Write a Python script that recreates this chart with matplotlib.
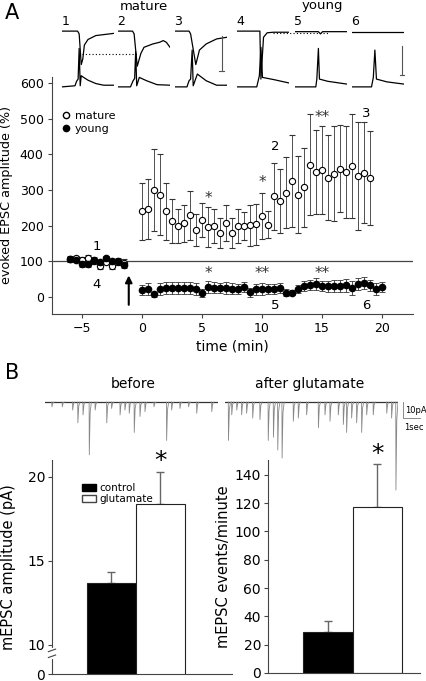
import matplotlib
matplotlib.use("Agg")
import matplotlib.pyplot as plt
from matplotlib.lines import Line2D
from matplotlib.patches import Patch

# ---------------- data ----------------
# panel A, evoked EPSC amplitude (%) vs time (min)
base_t = [-6.0, -5.5, -5.0, -4.5, -4.0, -3.5, -3.0, -2.5, -2.0, -1.5]
base_mature = [107, 108, 103, 110, 100, 88, 98, 87, 97, 96]
base_mature_err = [8, 6, 10, 8, 7, 9, 6, 8, 7, 9]
base_young = [105, 103, 93, 91, 104, 97, 108, 100, 102, 90]
base_young_err = [7, 6, 8, 6, 8, 7, 8, 7, 6, 8]

mature_t = [i * 0.5 for i in range(39)]
mature = [240, 247, 299, 287, 240, 213, 199, 206, 229, 187, 215, 196, 199,
          180, 208, 180, 199, 199, 201, 204, 227, 203, 282, 268, 292, 325,
          287, 307, 371, 350, 356, 335, 346, 360, 351, 367, 339, 349, 334]
mature_err = [80, 85, 115, 113, 80, 62, 47, 53, 68, 45, 48, 55, 48, 42, 50,
              42, 48, 38, 58, 58, 65, 38, 93, 90, 100, 130, 108, 112, 142,
              118, 124, 120, 134, 121, 129, 146, 151, 141, 132]

young_t = [i * 0.5 for i in range(41)]
young = [20, 22, 7, 22, 24, 24, 25, 24, 24, 22, 11, 28, 26, 25, 26, 23, 21,
         27, 13, 21, 22, 23, 21, 26, 12, 12, 22, 31, 33, 36, 31, 30, 31, 31,
         32, 25, 37, 39, 32, 21, 28]
young_err = [14, 16, 8, 17, 17, 17, 17, 17, 17, 16, 10, 16, 15, 15, 17, 15,
             14, 14, 12, 15, 16, 14, 14, 14, 10, 8, 12, 14, 15, 17, 14, 15,
             16, 17, 18, 20, 17, 18, 16, 17, 13]

# example traces above panel A (normalised time 0-1, normalised amplitude 0-1)
trace_labels = ["1", "2", "3", "4", "5", "6"]
trace_top_x = [
    [0, .30, .33, .37, .40, .43, .50, .65, 1.0],
    [0, .28, .31, .37, .44, .50, .67, .80, .87, .93, 1.0],
    [0, .27, .30, .40, .47, .60, .80, 1.0],
    [0, .44, .46, .51, .58, .70, 1.0],
    [0, .45, .49, .53, 1.0],
    [0, 1.0],
]
trace_top_y = [
    [1, 1, .95, .40, .50, .75, .85, .92, .96],
    [1, 1, .95, .37, .60, .71, .77, .80, .83, .80, .71],
    [1, 1, .95, .40, .66, .77, .86, .89],
    [1, 1, .14, .89, .97, .98, .98],
    [.99, .99, .95, .99, .99],
    [.99, .99],
]
trace_bot_x = [
    [0, .25, .28, .31, .33, .35, .37, .40, .50, .65, .80, 1.0],
    [0, .24, .29, .32, .34, .36, .41, .55, .75, 1.0],
    [0, .23, .27, .30, .33, .35, .43, .60, .80, 1.0],
    [0, .38, .43, .46, .49, .71, 1.0],
    [0, .40, .42, .45, .47, .63, 1.0],
    [0, .375, .41, .44, .47, .67, 1.0],
]
trace_bot_y = [
    [0, .02, .10, .14, .69, .02, .20, .18, .12, .06, .03, .03],
    [0, 0, .11, .15, .63, .02, .17, .11, .04, .03],
    [0, 0, .11, .14, .66, .02, .23, .11, .03, .03],
    [0, 0, .20, .71, .17, .13, .07],
    [0, 0, .14, .69, .14, .10, .05],
    [0, 0, .17, .66, .14, .09, .05],
]

# panel B, mEPSC events (time s, depth pA)
before_t = [0.4, 1.0, 1.6, 1.9, 2.2, 2.56, 2.9, 3.57, 3.85, 4.34, 4.62, 4.87,
            5.16, 5.49, 5.78, 6.3, 7.03, 7.32, 7.8, 8.3, 8.77, 9.64]
before_d = [3, 3, 5, 13, 8, 33, 5, 13, 4, 8, 5, 7, 19, 9, 6, 3, 24, 5, 4, 3,
            7, 6]
after_t = [0.2, 0.39, 0.68, 0.96, 1.25, 1.6, 2.02, 2.5, 2.8, 3.05, 3.3,
           3.95, 4.24, 4.72, 5.4, 5.78, 6.07, 6.55, 6.84, 7.03, 7.32, 7.61,
           7.9, 8.19, 8.57, 9.35, 9.63, 9.88]
after_d = [24, 8, 5, 8, 7, 10, 11, 24, 22, 30, 35, 12, 10, 8, 16, 8, 12, 8,
           14, 19, 10, 13, 19, 8, 8, 7, 10, 55]

groups = ["control", "glutamate"]
amp = [13.66, 18.36]
amp_err = [0.65, 1.95]
freq = [29, 117.6]
freq_err = [8, 30]

W, H = 426, 681


def box(l, t, r, b):
    return [l / W, 1 - b / H, (r - l) / W, (b - t) / H]


plt.rcParams['font.family'] = ['DejaVu Sans']
fig = plt.figure(figsize=(W / 100, H / 100), dpi=100)
axc = '#444444'

# ---------------- panel A ----------------
ax = fig.add_axes(box(52, 77, 413, 314))
ax.axhline(100, color=axc, lw=0.9, zorder=1)
ax.errorbar(mature_t, mature, yerr=mature_err, fmt='o', mfc='white', mec='black',
            ms=4.5, mew=0.8, ecolor='#333333', elinewidth=0.6, capsize=2.2,
            capthick=0.6, zorder=3)
ax.errorbar(young_t, young, yerr=young_err, fmt='o', mfc='black', mec='black',
            ms=4.5, ecolor='#333333', elinewidth=0.6, capsize=2.2,
            capthick=0.6, zorder=3)
ax.errorbar(base_t, base_mature, yerr=base_mature_err, fmt='o', mfc='white',
            mec='black', ms=4.5, mew=0.8, ecolor='#333333', elinewidth=0.6,
            capsize=2.2, capthick=0.6, zorder=3)
ax.errorbar(base_t, base_young, yerr=base_young_err, fmt='o', mfc='black',
            mec='black', ms=4.5, ecolor='#333333', elinewidth=0.6, capsize=2.2,
            capthick=0.6, zorder=4)
ax.set_xlim(-7.5, 22.6)
ax.set_ylim(-48, 617)
ax.set_xticks([-5, 0, 5, 10, 15, 20])
ax.set_yticks([0, 100, 200, 300, 400, 500, 600])
for s in ['top', 'right']:
    ax.spines[s].set_visible(False)
for s in ['left', 'bottom']:
    ax.spines[s].set_color(axc)
ax.tick_params(direction='out', length=3, width=0.8, color=axc, labelsize=9,
               pad=3)
ax.set_xlabel('time (min)', fontsize=10, labelpad=3)
ax.set_ylabel('evoked EPSC amplitude (%)', fontsize=9.2, labelpad=5)

for x, y, s in [(5.5, 277, '*'), (10, 322, '*'), (15, 502, '**'),
                (5.5, 66, '*'), (10, 66, '**'), (15, 66, '**')]:
    ax.text(x, y, s, ha='center', va='center', fontsize=11, color='#333333')
for x, y, s in [(-3.8, 140, '1'), (-3.8, 35, '4'), (11.1, 422, '2'),
                (18.7, 514, '3'), (11.1, -23, '5'), (18.7, -23, '6')]:
    ax.text(x, y, s, ha='center', va='center', fontsize=9.5)
ax.annotate('', xy=(-1.1, 68), xytext=(-1.1, -30),
            arrowprops=dict(arrowstyle='-|>', color='black', lw=1.5,
                            mutation_scale=10))

handles = [Line2D([], [], marker='o', ls='none', mfc='white', mec='black',
                  ms=4.5, label='mature'),
           Line2D([], [], marker='o', ls='none', mfc='black', mec='black',
                  ms=4.5, label='young')]
ax.legend(handles=handles, loc='upper left', bbox_to_anchor=(0.005, 0.89),
          frameon=False, fontsize=8, handlelength=0.8, handletextpad=0.4,
          labelspacing=0.25, borderpad=0.2)

# example traces
trace_left = [62, 118, 175, 237, 295, 352]
for i in range(6):
    ta = fig.add_axes(box(trace_left[i], 30, trace_left[i] + 52, 88))
    ta.plot(trace_top_x[i], trace_top_y[i], color='black', lw=0.9)
    ta.plot(trace_bot_x[i], trace_bot_y[i], color='black', lw=0.9)
    ta.set_xlim(0, 1)
    ta.set_ylim(-0.02, 1.02)
    ta.axis('off')
    ta.text(0.06, 1.04, trace_labels[i], transform=ta.transAxes, ha='center',
            va='bottom', fontsize=9)
    if i == 0:
        ta.plot([0.39, 1.47], [0.59, 0.59], ls=(0, (1, 2)), color='black',
                lw=0.8, clip_on=False)
    if i == 3:
        ta.plot([0.7, 1.76], [0.97, 0.97], ls=(0, (1, 2)), color='black',
                lw=0.8, clip_on=False)
    if i == 2:
        ta.plot([0.9, 0.9], [0.28, 0.91], color='#555555', lw=0.8)
        ta.plot([0.85, 0.95], [0.28, 0.28], color='#555555', lw=0.8)
    if i == 5:
        ta.plot([0.96, 0.96], [0.22, 0.74], color='#555555', lw=0.8)
        ta.plot([0.92, 1.0], [0.22, 0.22], color='#555555', lw=0.8,
                clip_on=False)

fig.text(12 / W, 1 - 13 / H, 'A', fontsize=15, ha='center', va='center')
fig.text(144 / W, 1 - 6 / H, 'mature', fontsize=9.5, ha='center', va='center')
fig.text(322 / W, 1 - 6 / H, 'young', fontsize=9.5, ha='center', va='center')

# ---------------- panel B ----------------
fig.text(12 / W, 1 - 373 / H, 'B', fontsize=15, ha='center', va='center')
fig.text(133 / W, 1 - 384 / H, 'before', fontsize=10, ha='center', va='center')
fig.text(310 / W, 1 - 384 / H, 'after glutamate', fontsize=10, ha='center',
         va='center')

# amplitude bars
b1 = fig.add_axes(box(52, 460, 232, 674))
b1.bar([0, 1], amp, width=1.0, bottom=0, color=['black', 'white'],
       edgecolor='#222222', lw=0.8, zorder=2)
b1.errorbar([0, 1], amp, yerr=[[0, 0], amp_err], fmt='none', ecolor='#666666',
            elinewidth=1.0, capsize=3, capthick=1.0, zorder=1)
b1.set_ylim(8.27, 21.0)
b1.set_xlim(-1.21, 2.46)
b1.set_yticks([8.27, 10, 15, 20])
b1.set_yticklabels(['0', '10', '15', '20'])
b1.set_xticks([])
b1.set_ylabel('mEPSC amplitude (pA)', fontsize=10.5, labelpad=8)
b1.text(1, 20.95, '*', ha='center', va='center', fontsize=18, clip_on=False)
b1.plot([0, 0], [9.3, 9.7], color='white', lw=3, transform=b1.get_yaxis_transform(),
        clip_on=False, zorder=5)
b1.plot([-0.02, 0.02], [9.25, 9.4], color=axc, lw=0.8,
        transform=b1.get_yaxis_transform(), clip_on=False, zorder=6)
b1.plot([-0.02, 0.02], [9.6, 9.75], color=axc, lw=0.8,
        transform=b1.get_yaxis_transform(), clip_on=False, zorder=6)
b1.legend(handles=[Patch(facecolor='black', edgecolor='black', label='control'),
                   Patch(facecolor='white', edgecolor='#444444', label='glutamate')],
          loc='upper left', bbox_to_anchor=(0.13, 0.92), frameon=False,
          fontsize=7.5, handlelength=1.4, handleheight=0.6, handletextpad=0.3,
          labelspacing=0.1, borderpad=0.1)

# frequency bars
b2 = fig.add_axes(box(268, 460, 420, 673))
b2.bar([0, 1], freq, width=1.0, color=['black', 'white'], edgecolor='#222222',
       lw=0.8, zorder=2)
b2.errorbar([0, 1], freq, yerr=[[0, 0], freq_err], fmt='none',
            ecolor='#666666', elinewidth=1.0, capsize=3, capthick=1.0, zorder=1)
b2.set_ylim(0, 150.5)
b2.set_xlim(-1.21, 1.86)
b2.set_yticks([0, 20, 40, 60, 80, 100, 120, 140])
b2.set_xticks([])
b2.set_ylabel('mEPSC events/minute', fontsize=10.5, labelpad=3)
b2.text(1, 155, '*', ha='center', va='center', fontsize=18, clip_on=False)

for b in [b1, b2]:
    b.patch.set_visible(False)
    for s in ['top', 'right']:
        b.spines[s].set_visible(False)
    for s in ['left', 'bottom']:
        b.spines[s].set_color(axc)
    b.tick_params(direction='out', length=3, width=0.8, color=axc,
                  labelsize=10, pad=2)

# mEPSC traces, drawn over the bar axes
for left, ts, ds in [(45, before_t, before_d), (225, after_t, after_d)]:
    tr = fig.add_axes(box(left, 395, left + 173, 495))
    tr.plot([0, 10], [0, 0], color='#333333', lw=0.9)
    for t, d in zip(ts, ds):
        tr.plot([t - 0.01, t, t + 0.05, t + 0.12], [0, -d, -0.2 * d, 0],
                color='#888888', lw=0.6)
    tr.set_xlim(0, 10)
    tr.set_ylim(-58.1, 4.4)
    tr.axis('off')
    if left == 225:
        tr.plot([10.3, 10.3, 11.3], [0, -10, -10], color='#777777', lw=0.6,
                clip_on=False)
        tr.text(10.4, -5, '10pA', fontsize=6, va='center', ha='left')
        tr.text(10.35, -16, '1sec', fontsize=6, va='center', ha='left')

fig.savefig('out.png', dpi=100)
